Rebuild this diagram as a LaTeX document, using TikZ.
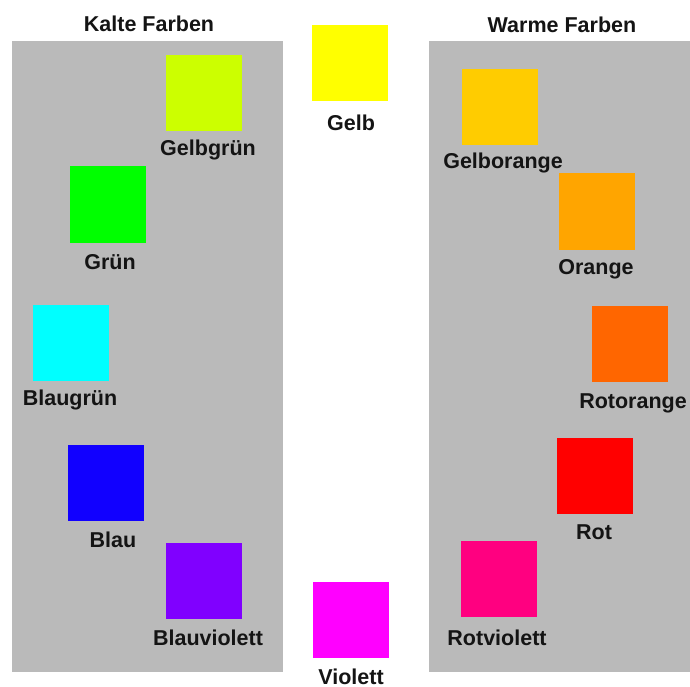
\documentclass[tikz,border=0pt]{standalone}
\usepackage{fontspec}
\setmainfont{Liberation Sans}
\definecolor{panelgray}{HTML}{BABABA}
\definecolor{cGelbgruen}{HTML}{CCFF00}
\definecolor{cGruen}{HTML}{00FF00}
\definecolor{cBlaugruen}{HTML}{00FFFF}
\definecolor{cBlau}{HTML}{1100FF}
\definecolor{cBlauviolett}{HTML}{8000FF}
\definecolor{cViolett}{HTML}{FF00FF}
\definecolor{cGelb}{HTML}{FFFF00}
\definecolor{cGelborange}{HTML}{FFCC00}
\definecolor{cOrange}{HTML}{FFA500}
\definecolor{cRotorange}{HTML}{FF6600}
\definecolor{cRot}{HTML}{FF0000}
\definecolor{cRotviolett}{HTML}{FF0080}
\tikzset{
  swatch/.style={rectangle, minimum width=76pt, minimum height=76pt, inner sep=0pt, fill=#1},
  lbl/.style={anchor=base, inner sep=0pt, font=\fontsize{21.5}{24}\selectfont\bfseries, text=black!92},
  panel/.style={fill=panelgray, draw=none}
}
\begin{document}
\begin{tikzpicture}[x=1pt,y=-1pt]
\useasboundingbox (0,0) rectangle (690,687);
\fill[white] (0,0) rectangle (690,687);
% panels
\node[panel, minimum width=271pt, minimum height=631pt, inner sep=0pt, anchor=north west] (kpanel) at (12,41) {};
\node[panel, minimum width=261pt, minimum height=631pt, inner sep=0pt, anchor=north west] (wpanel) at (429,41) {};
% titles
\node[lbl] (ktitle) at (149,32) {Kalte Farben};
\node[lbl] (wtitle) at (562,33) {Warme Farben};
% cold colours
\node[swatch=cGelbgruen] (gelbgruen) at (204,93.5) {};
\node[lbl] (gelbgruenL) at (208,156) {Gelbgrün};
\node[swatch=cGruen] (gruen) at (107.5,204.5) {};
\node[lbl] (gruenL) at (110,269) {Grün};
\node[swatch=cBlaugruen] (blaugruen) at (71,342.5) {};
\node[lbl] (blaugruenL) at (70,405) {Blaugrün};
\node[swatch=cBlau] (blau) at (106,483) {};
\node[lbl] (blauL) at (113,547) {Blau};
\node[swatch=cBlauviolett] (blauviolett) at (204,581) {};
\node[lbl] (blauviolettL) at (208,645) {Blauviolett};
% middle
\node[swatch=cGelb] (gelb) at (350,63) {};
\node[lbl] (gelbL) at (351,131) {Gelb};
\node[swatch=cViolett] (violett) at (351,620) {};
\node[lbl] (violettL) at (351,684) {Violett};
% warm colours
\node[swatch=cGelborange] (gelborange) at (500,107.5) {};
\node[lbl] (gelborangeL) at (503,169) {Gelborange};
\node[swatch=cOrange] (orange) at (596.5,211.5) {};
\node[lbl] (orangeL) at (596,274) {Orange};
\node[swatch=cRotorange] (rotorange) at (630,344) {};
\node[lbl] (rotorangeL) at (633,408) {Rotorange};
\node[swatch=cRot] (rot) at (594.5,476) {};
\node[lbl] (rotL) at (594,539) {Rot};
\node[swatch=cRotviolett] (rotviolett) at (498.5,579) {};
\node[lbl] (rotviolettL) at (497,645) {Rotviolett};
\end{tikzpicture}
\end{document}
